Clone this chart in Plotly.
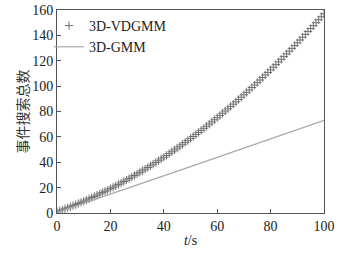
import plotly.graph_objects as go

t_vd = list(range(0, 101))
vdgmm = [1.00, 1.76, 2.53, 3.32, 4.13, 4.95, 5.79, 6.65, 7.52, 8.41,
         9.31, 10.23, 11.17, 12.12, 13.09, 14.07, 15.07, 16.09, 17.12, 18.17,
         19.24, 20.32, 21.42, 22.53, 23.67, 24.81, 25.98, 27.15, 28.35, 29.56,
         30.79, 32.03, 33.29, 34.57, 35.86, 37.17, 38.50, 39.84, 41.20, 42.57,
         43.96, 45.37, 46.79, 48.23, 49.68, 51.15, 52.64, 54.14, 55.66, 57.20,
         58.75, 60.32, 61.90, 63.50, 65.12, 66.75, 68.40, 70.07, 71.75, 73.45,
         75.16, 76.89, 78.64, 80.40, 82.18, 83.97, 85.78, 87.61, 89.45, 91.31,
         93.19, 95.08, 96.99, 98.91, 100.86, 102.81, 104.79, 106.78, 108.78, 110.80,
         112.84, 114.89, 116.96, 119.05, 121.15, 123.27, 125.41, 127.56, 129.72, 131.91,
         134.11, 136.33, 138.56, 140.81, 143.08, 145.36, 147.66, 149.97, 152.31, 154.66,
         157.00]

t_gmm = [0, 10, 20, 30, 40, 50, 60, 70, 80, 90, 100]
gmm = [0.5, 7.6, 14.8, 22.0, 29.3, 36.5, 43.8, 51.0, 58.3, 65.6, 73.0]

x_ticks = [0, 20, 40, 60, 80, 100]
y_ticks = [0, 20, 40, 60, 80, 100, 120, 140, 160]

serif = "Liberation Serif"

fig = go.Figure()
fig.add_trace(go.Scatter(
    x=t_vd, y=vdgmm, mode="markers", name="3D-VDGMM",
    marker=dict(symbol="cross-thin", size=6, line=dict(color="#707070", width=1), color="#707070"),
))
fig.add_trace(go.Scatter(
    x=t_gmm, y=gmm, mode="lines", name="3D-GMM",
    line=dict(color="#a8a8a8", width=1.2),
))

axis_common = dict(
    showgrid=False, zeroline=False, showline=True, linecolor="#555555", linewidth=1,
    mirror=True, ticks="inside", ticklen=4, tickcolor="#555555", automargin=False,
    ticklabeloverflow="allow",
    tickfont=dict(family=serif, size=14, color="#222222"),
)
fig.update_xaxes(range=[0, 100], tickvals=x_ticks, **axis_common,
                 title=dict(text="<i>t</i>/s", font=dict(family=serif, size=14, color="#222222"), standoff=2))
fig.update_yaxes(range=[0, 160], tickvals=y_ticks, **axis_common,
                 title=dict(text="事件搜索总数", font=dict(family="Noto Sans CJK SC", size=14, color="#333333"), standoff=0))

fig.update_layout(
    width=346, height=256,
    margin=dict(l=57, r=22, t=10, b=43, autoexpand=False),
    paper_bgcolor="white", plot_bgcolor="white",
    showlegend=True,
    legend=dict(x=-0.03, y=1.0, xanchor="left", yanchor="top", bgcolor="rgba(0,0,0,0)",
                font=dict(family=serif, size=14, color="#222222"),
                itemwidth=30, tracegroupgap=0),
)
fig.write_html("out.html", config={"displayModeBar": False},
               post_script="document.body.style.margin='0';")
